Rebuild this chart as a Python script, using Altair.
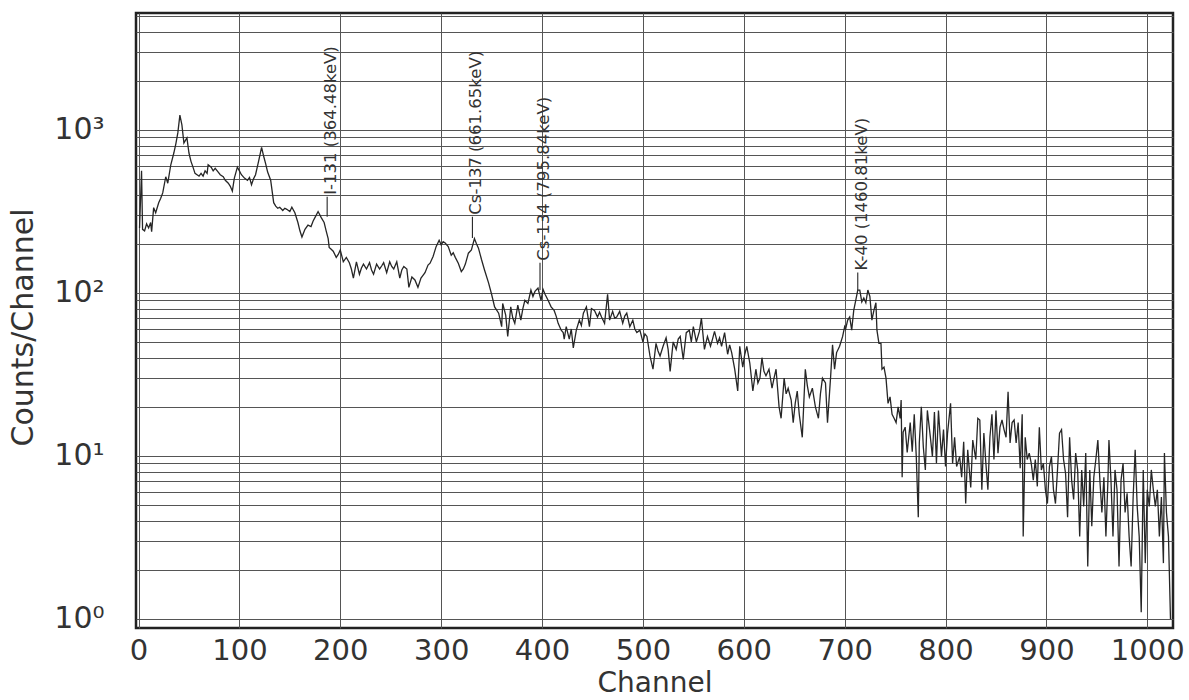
import altair as alt
import pandas as pd

# ---- spectrum: (channel, counts) ----
seg_0_150 = [(1,250),(3,560),(4,245),(6,240),(8,265),(10,250),(12,270),(13,237),(15,333),(17,310),(20,357),(22,380),(24,410),(27,515),(29,470),(32,610),(35,720),(37,820),(39,960),(41,1230),(43,1070),(45,830),(48,890),(50,720),(52,640),(54,590),(56,540),(58,530),(60,520),(62,540),(64,520),(66,560),(68,540),(69,610),(72,590),(74,560),(76,580),(79,550),(81,530),(84,515),(86,490),(89,470),(91,450),(93,420),(95,505),(98,590),(100,560),(102,530),(105,505),(108,490),(110,510),(112,460),(114,500),(116,530),(119,640),(122,780),(124,690),(126,620),(128,550),(131,490),(134,357),(136,340),(138,330),(140,335),(143,320),(145,330),(147,325),(150,315)]
seg_150_300 = [(152,335),(155,310),(158,270),(160,240),(162,220),(165,245),(168,260),(171,255),(173,275),(175,290),(178,315),(181,290),(184,270),(186,240),(188,215),(189,190),(191,185),(193,180),(196,165),(198,172),(200,183),(203,155),(206,165),(209,153),(211,140),(213,123),(216,155),(219,130),(221,142),(223,150),(226,140),(229,153),(231,138),(233,130),(236,150),(239,140),(241,146),(243,153),(246,133),(249,155),(251,145),(253,140),(256,155),(259,123),(261,138),(263,145),(266,140),(268,108),(271,125),(274,120),(277,108),(280,123),(282,128),(284,133),(287,148),(289,152),(292,167),(295,192),(298,210),(300,197)]
seg_300_450 = [(302,206),(304,202),(307,192),(310,170),(312,176),(314,165),(317,152),(320,135),(322,140),(324,150),(327,175),(330,183),(333,215),(335,200),(337,188),(340,160),(343,138),(347,115),(350,98),(353,82),(357,75),(360,62),(361,86),(364,73),(366,54),(369,82),(371,70),(373,65),(376,84),(379,68),(381,80),(383,90),(386,86),(389,104),(391,95),(393,102),(396,107),(399,90),(401,105),(403,98),(406,90),(409,82),(412,78),(414,72),(416,65),(419,59),(421,57),(422,52),(424,62),(427,52),(429,60),(431,46),(434,59),(437,68),(439,63),(441,75),(444,82),(447,62),(449,80)]
seg_450_600 = [(452,78),(455,71),(457,76),(459,71),(462,65),(465,98),(467,68),(470,77),(472,70),(474,71),(477,77),(480,65),(482,72),(484,75),(487,62),(490,68),(492,60),(494,57),(497,59),(500,50),(502,56),(504,54),(507,41),(510,34),(513,49),(515,44),(517,41),(520,47),(523,53),(525,45),(527,33),(530,50),(533,45),(535,52),(537,54),(540,39),(543,57),(546,59),(548,50),(550,62),(553,50),(556,58),(558,70),(561,45),(564,54),(567,47),(569,52),(571,58),(574,49),(576,53),(578,47),(581,57),(584,42),(586,48),(588,43),(591,34),(594,25),(596,47),(599,35)]
seg_600_750 = [(601,42),(603,47),(606,37),(609,25),(612,34),(614,28),(616,30),(618,40),(620,33),(622,31),(625,34),(628,26),(630,30),(632,34),(635,20),(637,17),(640,30),(642,24),(644,26),(647,22),(649,16),(651,21),(653,25),(655,18),(658,13),(661,34),(663,27),(665,23),(668,26),(671,20),(674,17),(676,24),(678,30),(681,28),(683,16),(686,30),(688,48),(690,34),(692,43),(695,47),(698,54),(700,62),(701,60),(703,68),(705,71),(707,59),(709,78),(711,90),(713,104),(715,104),(717,88),(719,93),(721,87),(723,104),(725,95),(727,68),(729,78),(731,87),(732,59),(734,49),(736,49),(737,34),(739,35),(741,30),(743,21),(745,23),(747,18),(749,17)]
seg_750_900 = [(751,16),(753,20),(755,17),(756,22),(757,7.4),(758,14),(760,15),(762,10.5),(765,16),(767,10.6),(769,18),(771,9.9),(773,4.2),(774,12),(776,20),(778,11.3),(780,8.2),(782,19),(785,13),(787,9.9),(789,18.6),(791,9),(793,19),(796,9.9),(798,14.5),(800,8.6),(802,13.8),(805,21),(807,9),(809,13),(811,8.6),(814,9.9),(816,7.4),(818,12.2),(820,5.1),(822,10.9),(825,6.4),(827,12.5),(830,9.5),(832,17),(834,16.6),(836,6.2),(838,13.8),(840,9),(842,6.2),(844,13),(846,18),(848,9.5),(850,19),(852,10.4),(854,15),(856,16.6),(858,14.5),(860,13),(862,24.7),(864,12),(866,16),(868,16.6),(870,12),(872,16),(874,8.4),(876,18),(877,3.2),(879,13),(881,9.5),(883,10.4),(885,9),(887,7.1),(889,9.5),(891,6.5),(893,15),(895,8.2),(897,9),(899,6.2)]
seg_900_1024 = [(901,5.1),(903,8.6),(905,9.9),(907,6.2),(909,5.1),(911,8.2),(913,13.8),(915,14.5),(917,9.5),(919,7.8),(921,4.2),(923,13),(925,7.1),(927,5.4),(929,10.4),(931,8.2),(933,3.2),(935,8.2),(937,4.9),(939,10.4),(941,2.1),(943,8.2),(945,3.7),(947,7.4),(949,9.5),(951,12.5),(953,7.1),(955,4.5),(957,7.4),(959,3.2),(961,7.1),(962,12.5),(964,7.1),(966,3.2),(968,8.2),(970,6.2),(972,2.1),(974,7.1),(976,9),(978,4.5),(980,5.9),(982,3.2),(984,2.1),(986,5.6),(988,10.9),(990,4.9),(992,3.2),(994,1.1),(996,8.2),(998,2.2),(1000,6.2),(1002,4.9),(1004,8.2),(1006,6.2),(1008,4.9),(1010,6.2),(1012,3.2),(1014,5.6),(1016,2.2),(1017,10.4),(1019,4.5),(1021,3.2),(1023,1.0)]

# ---- peak annotations ----
peak_labels = ["I-131 (364.48keV)", "Cs-137 (661.65keV)", "Cs-134 (795.84keV)", "K-40 (1460.81keV)"]
peak_channels = [187, 331, 398, 713]
peak_counts = [293, 217, 104, 104]
marker_tops = [388, 293, 153, 133]

# ---- axes ----
x_ticks = [0, 100, 200, 300, 400, 500, 600, 700, 800, 900, 1000]
y_grid = [m * 10 ** e for e in range(4) for m in range(1, 10)]
y_grid = [v for v in y_grid if v <= 5000]

rows = seg_0_150 + seg_150_300 + seg_300_450 + seg_450_600 + seg_600_750 + seg_750_900 + seg_900_1024
spec = pd.DataFrame(rows, columns=["channel", "counts"])
ann = pd.DataFrame({"label": peak_labels, "channel": peak_channels,
                    "peak": peak_counts, "top": marker_tops})

FONT = "DejaVu Sans"

xscale = alt.Scale(domain=[-2.5, 1025.5], nice=False, zero=False)
yscale = alt.Scale(type="log", domain=[0.88, 5200], nice=False)

label_expr = ("datum.value == 1 ? '10⁰' : datum.value == 10 ? '10¹' : "
              "datum.value == 100 ? '10²' : datum.value == 1000 ? '10³' : ''")

line = alt.Chart(spec).mark_line(color="#262626", strokeWidth=1.3).encode(
    x=alt.X("channel:Q", scale=xscale,
            axis=alt.Axis(values=x_ticks, format="d", title="Channel", labelPadding=8,
                          labelFontSize=29, titleFontSize=28, titleY=63,
                          titleBaseline="alphabetic")),
    y=alt.Y("counts:Q", scale=yscale,
            axis=alt.Axis(values=y_grid, labelExpr=label_expr, title="Counts/Channel",
                          labelPadding=32, titleAngle=270, titleX=-104, titleY=314,
                          titleAlign="center", titleBaseline="alphabetic")),
)

rules = alt.Chart(ann).mark_rule(color="#262626", strokeWidth=1.1).encode(
    x="channel:Q", y="peak:Q", y2="top:Q"
)

texts = alt.Chart(ann).mark_text(
    angle=270, align="left", baseline="top", dx=2, dy=-4,
    font=FONT, fontSize=16.5, color="#333333"
).encode(x="channel:Q", y="top:Q", text="label:N")

chart = alt.layer(line, rules, texts).properties(
    width=1037, height=615,
    autosize=alt.AutoSizeParams(type="none"),
    padding={"left": 136, "top": 13, "right": 16, "bottom": 72},
    background="white",
).configure_view(
    stroke="#222222", strokeWidth=2.5
).configure_axis(
    grid=True, gridColor="#555555", gridWidth=1, gridOpacity=1,
    ticks=False, tickSize=0, domain=False,
    labelFont=FONT, labelFontSize=30, labelColor="#333333",
    labelOverlap=False, labelFlush=False, labelBound=False,
    titleFont=FONT, titleFontSize=30, titleFontWeight="normal", titleColor="#333333",
)

chart.save("out.html", embed_options={"renderer": "svg", "actions": False})
